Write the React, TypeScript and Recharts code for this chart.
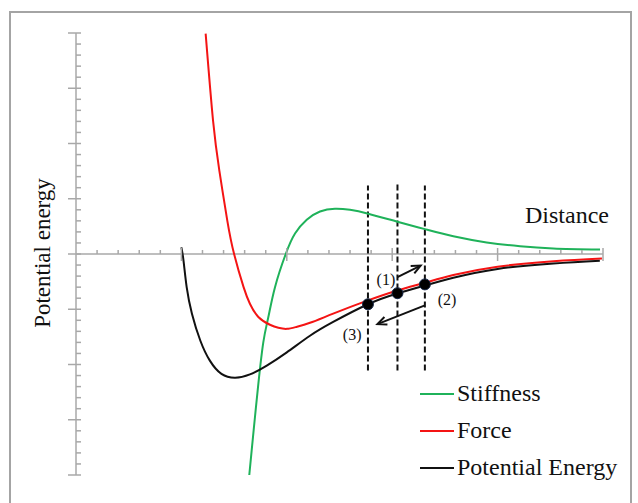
import React from "react";
import { LineChart, Line, XAxis, YAxis, ReferenceLine, ReferenceDot, Legend } from "recharts";

// distance in major-tick units, values in major-tick units
const energyX = [1.0, 1.02, 1.05, 1.1, 1.18, 1.27, 1.38, 1.51, 1.65, 1.81, 2.0, 2.22, 2.44, 2.77, 3.04, 3.31, 3.58, 4.0, 4.53, 4.97];
const energyY = [0.12, -0.12, -0.6, -1.08, -1.57, -1.93, -2.17, -2.24, -2.18, -2.02, -1.78, -1.48, -1.23, -0.91, -0.72, -0.57, -0.43, -0.27, -0.17, -0.12];

const forceX = [1.23, 1.3, 1.36, 1.435, 1.5, 1.59, 1.65, 1.73, 1.84, 1.92, 2.0, 2.09, 2.22, 2.44, 2.77, 3.05, 3.31, 3.58, 4.0, 4.53, 4.99];
const forceY = [3.99, 2.42, 1.51, 0.61, 0.0, -0.6, -0.9, -1.14, -1.28, -1.335, -1.355, -1.32, -1.245, -1.08, -0.84, -0.66, -0.52, -0.38, -0.23, -0.13, -0.08];

const stiffX = [1.644, 1.667, 1.698, 1.73, 1.777, 1.824, 1.888, 1.99, 2.078, 2.189, 2.315, 2.457, 2.6, 2.773, 3.058, 3.311, 3.58, 3.896, 4.213, 4.528, 4.972];
const stiffY = [-4.0, -3.55, -2.95, -2.35, -1.6, -1.15, -0.6, 0, 0.37, 0.62, 0.77, 0.82, 0.8, 0.73, 0.58, 0.45, 0.32, 0.21, 0.14, 0.1, 0.08];

// states marked on the energy curve, with their dashed guides
const stateX = [2.77, 3.05, 3.31];
const stateY = [-0.91, -0.71, -0.55];
const guideTop = [1.24, 1.3, 1.24];
const guideBottom = -2.11;

const stateLabels = ["(1)", "(2)", "(3)"];
const labelPos = [
  { x: 2.94, y: -0.46 },
  { x: 3.52, y: -0.82 },
  { x: 2.62, y: -1.46 },
];
const arrows = [
  { from: { x: 3.05, y: -0.42 }, to: { x: 3.27, y: -0.21 } },
  { from: { x: 3.31, y: -0.93 }, to: { x: 2.86, y: -1.27 } },
];

const GREEN = "#1fb25a";
const RED = "#f41414";
const BLACK = "#111111";
const AXIS = "#a8a8a8";
const SERIF = "'Liberation Serif', 'Times New Roman', serif";

const legendItems = [
  { name: "Stiffness", color: GREEN },
  { name: "Force", color: RED },
  { name: "Potential Energy", color: BLACK },
];

const toPoints = (xs: number[], ys: number[]) => xs.map((x, i) => ({ x, y: ys[i] }));
const energy = toPoints(energyX, energyY);
const force = toPoints(forceX, forceY);
const stiffness = toPoints(stiffX, stiffY);

// minor ticks every fifth of a major step
const yTicks = Array.from({ length: 41 }, (_, i) => Math.round((-4 + i * 0.2) * 10) / 10);
const xTicks = Array.from({ length: 25 }, (_, i) => Math.round((0.2 + i * 0.2) * 10) / 10);
const isMajor = (v: number) => Math.abs(v - Math.round(v)) < 1e-6;

function YTick(p: any) {
  const major = isMajor(p.payloadValue);
  return (
    <line x1={major ? p.cx - 8 : p.cx} x2={p.cx + 5} y1={p.cy} y2={p.cy} stroke={AXIS} strokeWidth={1.5} />
  );
}

function XTick(p: any) {
  const major = isMajor(p.payloadValue);
  return (
    <line x1={p.cx} x2={p.cx} y1={p.cy - (major ? 6 : 4)} y2={p.cy + (major ? 7 : 0)} stroke={AXIS} strokeWidth={1.5} />
  );
}

function Arrow(p: any) {
  const { x1, y1, x2, y2 } = p;
  const ang = Math.atan2(y2 - y1, x2 - x1);
  const h = 10;
  const a1 = ang + Math.PI - 0.42;
  const a2 = ang + Math.PI + 0.42;
  return (
    <g stroke={BLACK} strokeWidth={2} fill="none">
      <line x1={x1} y1={y1} x2={x2} y2={y2} />
      <polyline
        points={`${x2 + h * Math.cos(a1)},${y2 + h * Math.sin(a1)} ${x2},${y2} ${x2 + h * Math.cos(a2)},${y2 + h * Math.sin(a2)}`}
      />
    </g>
  );
}

function LegendBox() {
  return (
    <div style={{ fontFamily: SERIF, fontSize: 24, color: "#111" }}>
      {legendItems.map((it) => (
        <div key={it.name} style={{ display: "flex", alignItems: "center", height: 37 }}>
          <div style={{ width: 34, height: 2, background: it.color, marginRight: 3 }} />
          <span style={{ lineHeight: "37px" }}>{it.name}</span>
        </div>
      ))}
    </div>
  );
}

export default function App() {
  return (
    <div style={{ position: "absolute", left: 0, top: 0, width: 638, height: 503, background: "#fff", overflow: "hidden" }}>
      <div
        style={{
          position: "absolute",
          left: 9,
          top: 11,
          width: 619,
          height: 510,
          border: "2px solid #a4a4a4",
        }}
      />
      <LineChart width={638} height={503} margin={{ top: 33, right: 35, bottom: 28, left: 76 }}>
        <XAxis type="number" dataKey="x" domain={[0, 5]} hide allowDataOverflow />
        <YAxis type="number" dataKey="y" domain={[-4, 4]} hide allowDataOverflow />
        <ReferenceLine x={0} stroke={AXIS} strokeWidth={1.5} />
        <ReferenceLine y={0} stroke={AXIS} strokeWidth={1.5} />
        {yTicks.map((v) => (
          <ReferenceDot key={`y${v}`} x={0} y={v} r={0} shape={(p: any) => <YTick {...p} payloadValue={v} />} />
        ))}
        {xTicks.map((v) => (
          <ReferenceDot key={`x${v}`} x={v} y={0} r={0} shape={(p: any) => <XTick {...p} payloadValue={v} />} />
        ))}
        {stateX.map((x, i) => (
          <ReferenceLine
            key={`g${i}`}
            segment={[
              { x, y: guideBottom },
              { x, y: guideTop[i] },
            ]}
            stroke={BLACK}
            strokeWidth={2}
            strokeDasharray="6 3"
          />
        ))}
        <Line data={stiffness} dataKey="y" type="natural" stroke={GREEN} strokeWidth={2} dot={false} isAnimationActive={false} name="Stiffness" />
        <Line data={force} dataKey="y" type="natural" stroke={RED} strokeWidth={2} dot={false} isAnimationActive={false} name="Force" />
        <Line data={energy} dataKey="y" type="natural" stroke={BLACK} strokeWidth={2} dot={false} isAnimationActive={false} name="Potential Energy" />
        {stateX.map((x, i) => (
          <ReferenceDot key={`s${i}`} x={x} y={stateY[i]} r={5.5} fill="#000" stroke="#1a2a4a" strokeWidth={1} />
        ))}
        {arrows.map((a, i) => (
          <ReferenceLine key={`a${i}`} segment={[a.from, a.to]} shape={(p: any) => <Arrow {...p} />} />
        ))}
        {labelPos.map((pos, i) => (
          <ReferenceDot
            key={`l${i}`}
            x={pos.x}
            y={pos.y}
            r={0}
            shape={(p: any) => (
              <text x={p.cx} y={p.cy} textAnchor="middle" dominantBaseline="central" fontFamily={SERIF} fontSize={16} fill="#111">
                {stateLabels[i]}
              </text>
            )}
          />
        ))}
        <Legend
          layout="vertical"
          align="center"
          verticalAlign="middle"
          content={() => <LegendBox />}
          wrapperStyle={{ left: 420, top: 375, width: 210 }}
        />
      </LineChart>
      <div
        style={{
          position: "absolute",
          left: 525,
          top: 200,
          fontFamily: SERIF,
          fontSize: 24,
          color: "#111",
          lineHeight: "30px",
        }}
      >
        Distance
      </div>
      <div
        style={{
          position: "absolute",
          left: 43,
          top: 253,
          transform: "translate(-50%, -50%) rotate(-90deg)",
          fontFamily: SERIF,
          fontSize: 23,
          color: "#111",
          whiteSpace: "nowrap",
        }}
      >
        Potential energy
      </div>
    </div>
  );
}
